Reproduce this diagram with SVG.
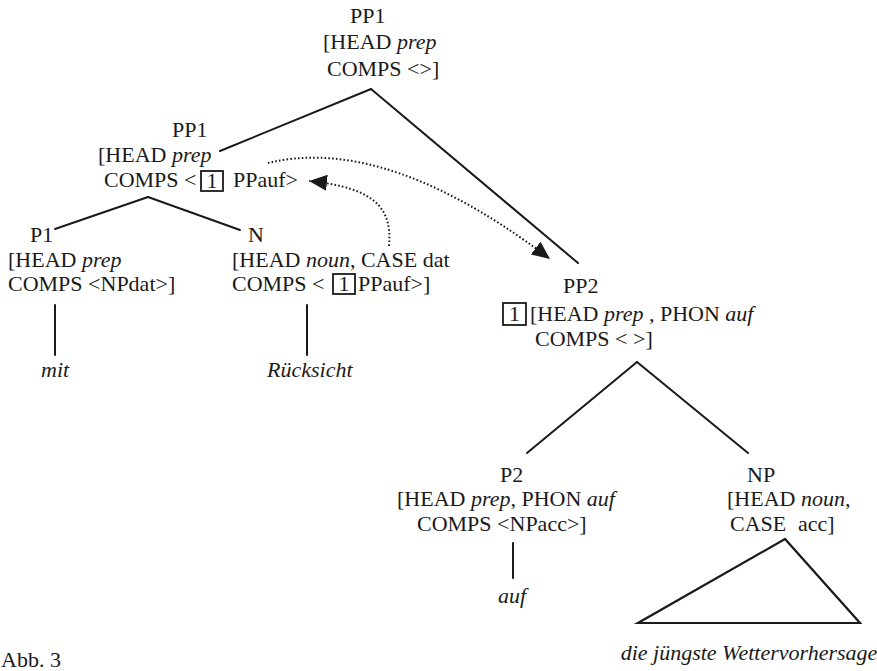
<svg xmlns="http://www.w3.org/2000/svg" width="877" height="671" viewBox="0 0 877 671">
  <style>
    text { font-family: "Liberation Serif", "Times New Roman", serif; font-size: 22px; fill: #1a1a1a; }
    .it { font-style: italic; }
    .edge { stroke: #1a1a1a; stroke-width: 2; fill: none; stroke-linecap: round; }
    .dot { stroke: #1a1a1a; stroke-width: 2; fill: none; stroke-dasharray: 1.6 2.2; }
    .box { fill: none; stroke: #1a1a1a; stroke-width: 1.8; }
    .tri { fill: none; stroke: #1a1a1a; stroke-width: 2.2; stroke-linejoin: miter; }
  </style>
  <defs>
    <marker id="arrow" markerUnits="userSpaceOnUse" markerWidth="19" markerHeight="17" refX="18" refY="8" orient="auto">
      <path d="M0,0 L18,8 L0,16 z" fill="#1a1a1a"/>
    </marker>
  </defs>
  <rect width="877" height="671" fill="#ffffff"/>

  <g id="connectors">
    <line class="edge" x1="371" y1="89" x2="220" y2="151"/>
    <line class="edge" x1="371" y1="89" x2="578" y2="263"/>
    <line class="edge" x1="148" y1="197" x2="55" y2="229"/>
    <line class="edge" x1="148" y1="197" x2="240" y2="230"/>
    <line class="edge" x1="55" y1="305" x2="55" y2="355"/>
    <line class="edge" x1="307" y1="305" x2="307" y2="355"/>
    <line class="edge" x1="637" y1="362" x2="527" y2="453"/>
    <line class="edge" x1="637" y1="362" x2="748" y2="453"/>
    <line class="edge" x1="513" y1="543" x2="513" y2="578"/>
    <path class="dot" d="M389,246 C392,210 378,188 309,181" marker-end="url(#arrow)"/>
    <path class="dot" d="M268,163 C330,148 420,160 550,259" marker-end="url(#arrow)"/>
  </g>

  <g id="pp1-top">
    <text x="350" y="23">PP1</text>
    <text x="323" y="49">[HEAD <tspan class="it">prep</tspan></text>
    <text x="327" y="76">COMPS &lt;&gt;]</text>
  </g>

  <g id="pp1-mid">
    <text x="172" y="137">PP1</text>
    <text x="98" y="162">[HEAD <tspan class="it">prep</tspan></text>
    <text x="104" y="187">COMPS &lt;</text>
    <rect class="box" x="201" y="171" width="22" height="20"/>
    <text x="212" y="188" text-anchor="middle">1</text>
    <text x="233" y="187">PPauf&gt;</text>
  </g>

  <g id="p1">
    <text x="30" y="242">P1</text>
    <text x="8" y="267">[HEAD <tspan class="it">prep</tspan></text>
    <text x="8" y="291">COMPS &lt;NPdat&gt;]</text>
  </g>

  <g id="mit">
    <text class="it" x="41" y="377">mit</text>
  </g>

  <g id="n">
    <text x="248" y="242">N</text>
    <text x="232" y="267">[HEAD <tspan class="it">noun</tspan>, CASE dat</text>
    <text x="232" y="291">COMPS &lt;</text>
    <rect class="box" x="333" y="274" width="22" height="20"/>
    <text x="344" y="291" text-anchor="middle">1</text>
    <text x="358" y="291">PPauf&gt;]</text>
  </g>

  <g id="ruecksicht">
    <text class="it" x="267" y="377">Rücksicht</text>
  </g>

  <g id="pp2">
    <text x="563" y="293">PP2</text>
    <rect class="box" x="503" y="303" width="23" height="22"/>
    <text x="514.5" y="321" text-anchor="middle">1</text>
    <text x="530" y="321">[HEAD <tspan class="it">prep</tspan> , PHON <tspan class="it">auf</tspan></text>
    <text x="535" y="346">COMPS &lt; &gt;]</text>
  </g>

  <g id="p2">
    <text x="500" y="482">P2</text>
    <text x="397" y="506">[HEAD <tspan class="it">prep</tspan>, PHON <tspan class="it">auf</tspan></text>
    <text x="417" y="531">COMPS &lt;NPacc&gt;]</text>
  </g>

  <g id="auf">
    <text class="it" x="498" y="603">auf</text>
  </g>

  <g id="np">
    <text x="747" y="482">NP</text>
    <text x="727" y="506">[HEAD <tspan class="it">noun</tspan>,</text>
    <text x="730" y="531">CASE<tspan x="798">acc]</tspan></text>
    <polygon class="tri" points="785,539 638,623 860,623"/>
  </g>

  <g id="np-yield">
    <text class="it" x="749" y="660" text-anchor="middle">die jüngste Wettervorhersage</text>
  </g>

  <g id="caption">
    <text x="1" y="667">Abb. 3</text>
  </g>
</svg>
